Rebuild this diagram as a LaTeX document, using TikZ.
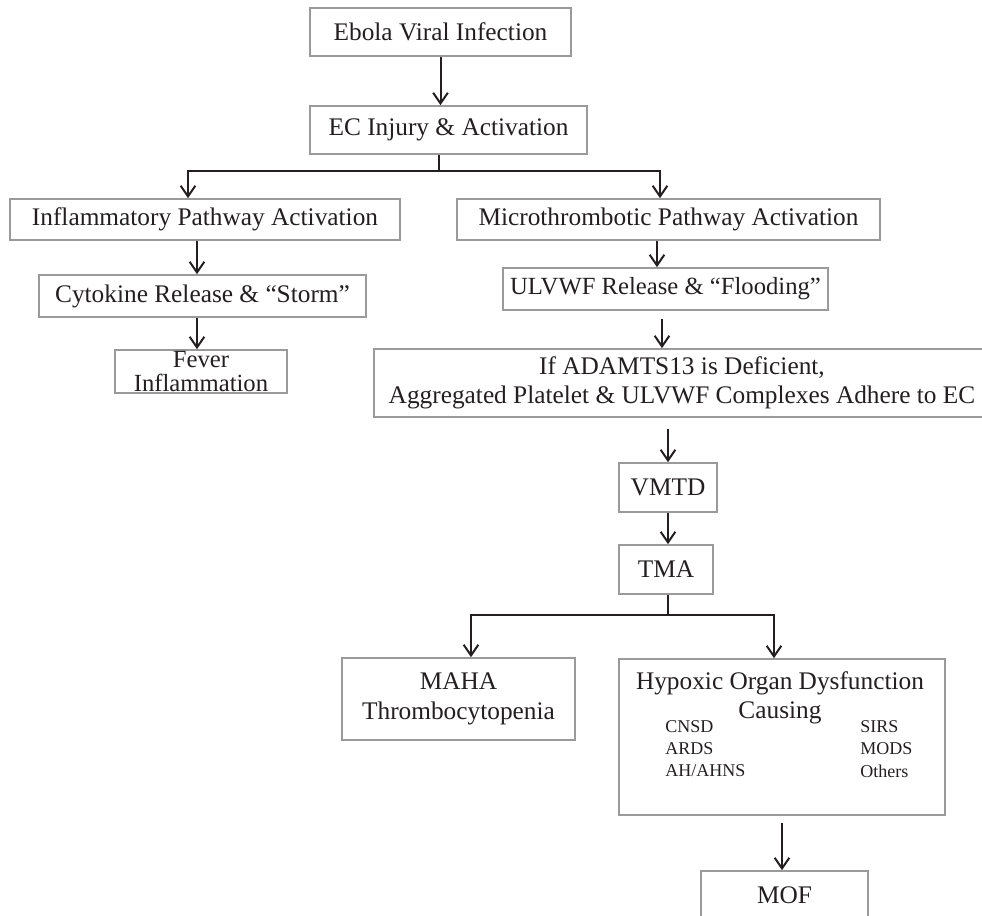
\documentclass[tikz,border=0pt]{standalone}
\usepackage{fontspec}
\setmainfont{Liberation Serif}
\usepackage{tikz}
\usetikzlibrary{arrows.meta,positioning,calc}
\definecolor{ebolaInk}{HTML}{231F20}
\definecolor{ebolaEdge}{HTML}{9A9A9A}
\tikzset{
  flowbox/.style={draw=ebolaEdge,line width=1.2pt,text=ebolaInk,inner sep=0pt,
                  align=center,font=\fontsize{19}{22}\selectfont},
  boxsize/.style 2 args={minimum width=#1*0.75pt,minimum height=#2*0.75pt},
  flowline/.style={draw=ebolaInk,line width=1.5pt},
  flowarrow/.style={flowline,-{Straight Barb[length=8pt,width=11pt]}},
  listtext/.style={text=ebolaInk,inner sep=0pt,anchor=west,
                   font=\fontsize{13.5}{16}\selectfont},
}

\begin{document}
\begin{tikzpicture}[x=0.75pt,y=-0.75pt]
  \useasboundingbox (0,0) rectangle (982,916);

  \node[flowbox,boxsize={261}{48}] (ebola) at (440.5,32) {Ebola Viral Infection};
  \node[flowbox,boxsize={277}{48}] (injury) at (448.5,130) {EC Injury \& Activation};
  \node[flowbox,boxsize={390}{41}] (inflam) at (205,219.5) {Inflammatory Pathway Activation};
  \node[flowbox,boxsize={423}{41}] (micro) at (668.5,219.5) {Microthrombotic Pathway Activation};
  \node[flowbox,boxsize={327}{42}] (cytokine) at (202.5,296) {Cytokine Release \& “Storm”};
  \node[flowbox,boxsize={172}{43},font=\fontsize{18.5}{17.5}\selectfont] (fever) at (201,371.5)
       {Fever\\Inflammation};
  \node[flowbox,boxsize={325}{42},font=\fontsize{18.5}{22}\selectfont] (ulvwf) at (665.5,289)
       {ULVWF Release \& “Flooding”};
  \node[flowbox,boxsize={616}{68}] (adamts) at (682,383)
       {If ADAMTS13 is Deficient,\\Aggregated Platelet \& ULVWF Complexes Adhere to EC};
  \node[flowbox,boxsize={98}{49}] (vmtd) at (668,487.5) {VMTD};
  \node[flowbox,boxsize={94}{49}] (tma) at (666,569.5) {TMA};
  \node[flowbox,boxsize={233}{82},font=\fontsize{19}{22.5}\selectfont] (maha) at (458.5,699)
       {MAHA\\Thrombocytopenia};
  \node[flowbox,boxsize={326}{156}] (hypoxic) at (782,737) {};
  \node[text=ebolaInk,inner sep=0pt,align=center,font=\fontsize{19}{22}\selectfont]
       (hypoxictitle) at (780,697.5) {Hypoxic Organ Dysfunction\\Causing};
  \foreach \lbl [count=\i] in {CNSD,ARDS,AH/AHNS}
    \node[listtext] (left\i) at (665,705+22*\i) {\lbl};
  \foreach \lbl [count=\i] in {SIRS,MODS,Others}
    \node[listtext] (right\i) at (860,705+22*\i) {\lbl};
  \node[flowbox,boxsize={167}{48}] (mof) at (784.5,895) {MOF};

  \coordinate (split1) at (439,171);
  \coordinate (splitL) at (188,171);
  \coordinate (splitR) at (660,171);
  \coordinate (split2) at (668,615);
  \coordinate (splitM) at (471,615);
  \coordinate (splitH) at (774,615);

  \draw[flowarrow] (ebola.south) -- (ebola.south |- injury.north);
  \draw[flowarrow] (injury.south -| split1) |- (splitL) -- (splitL |- inflam.north);
  \draw[flowarrow] (split1) -| (splitR |- micro.north);
  \draw[flowarrow] ($(inflam.south)+(-8,0)$) -- ($(cytokine.north)+(-5.5,0)$);
  \draw[flowarrow] ($(cytokine.south)+(-5.5,0)$) -- ($(fever.north)+(-4,0)$);
  \draw[flowarrow] ($(micro.south)+(-11.5,0)$) -- ($(ulvwf.north)+(-8.5,0)$);
  \draw[flowarrow] ($(ulvwf.south)+(-3.5,8)$) -- ($(adamts.north)+(-20,0)$);
  \draw[flowarrow] ($(vmtd.north |- adamts.south)+(0,11)$) -- (vmtd.north);
  \draw[flowarrow] (vmtd.south) -- (vmtd.south |- tma.north);
  \draw[flowarrow] (tma.south -| split2) |- (splitM) -- (splitM |- maha.north);
  \draw[flowarrow] (split2) -| (splitH |- hypoxic.north);
  \draw[flowarrow] ($(hypoxic.south)+(0,7)$) -- (hypoxic.south |- mof.north);
\end{tikzpicture}
\end{document}
